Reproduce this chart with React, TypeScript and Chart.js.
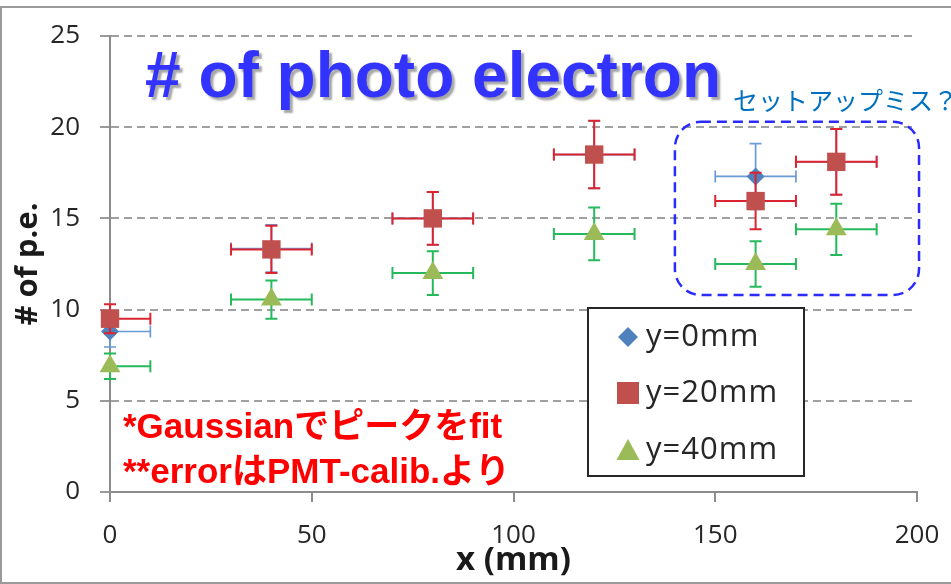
import React, { useEffect, useRef } from 'react';
import { Chart, registerables } from 'chart.js';

Chart.register(...registerables);

// ---- data ----
const xPositions = [0, 40, 80, 120, 160, 180];
const xErrors = [10, 10, 10, 10, 10, 10];
const seriesLabels = ['y=0mm', 'y=20mm', 'y=40mm'];
const y0Values = [8.8, 13.35, 15.0, 18.5, 17.3, 18.1];
const y0Errors = [0.85, 1.3, 1.45, 1.85, 1.8, 1.8];
const y20Values = [9.5, 13.3, 15.0, 18.5, 15.95, 18.1];
const y20Errors = [0.8, 1.3, 1.45, 1.85, 1.55, 1.8];
const y40Values = [6.9, 10.55, 12.0, 14.15, 12.5, 14.4];
const y40Errors = [0.7, 1.05, 1.2, 1.45, 1.25, 1.4];
const xTickValues = [0, 50, 100, 150, 200];
const yTickValues = [0, 5, 10, 15, 20, 25];
const titleText = '# of photo electron';
const noteText = 'セットアップミス？';
const remarkLines = ['*Gaussianでピークをfit', '**errorはPMT-calib.より'];
const xAxisTitle = 'x (mm)';
const yAxisTitle = '# of p.e.';
// highlighted region (data coordinates)
const boxXRange = [140, 200.5];
const boxYRange = [10.8, 20.3];

const markerColors = ['#4F81BD', '#C0504D', '#9BBB59'];
const errorColors = ['#6A9AD6', '#DC2430', '#25B95C'];
const pointStyles = ['rectRot', 'rect', 'triangle'];
const pointRadii = [9, 13, 12];

const makePoints = (ys: number[], errs: number[]) =>
  xPositions.map((x, i) => ({ x, y: ys[i], xErr: xErrors[i], yErr: errs[i] }));

const errorBarPlugin = {
  id: 'errorBars',
  beforeDatasetDraw(chart: any, args: any) {
    const ds = chart.data.datasets[args.index];
    const xs = chart.scales.x;
    const ys = chart.scales.y;
    const ctx = chart.ctx;
    const cap = 6;
    ctx.save();
    ctx.strokeStyle = ds.errorColor;
    ctx.lineWidth = ds.errorWidth || 2;
    ctx.setLineDash([]);
    ds.data.forEach((d: any) => {
      const px = xs.getPixelForValue(d.x);
      const py = ys.getPixelForValue(d.y);
      const lo = d.x - d.xErr;
      const hi = d.x + d.xErr;
      const xl = xs.getPixelForValue(Math.max(lo, xs.min));
      const xr = xs.getPixelForValue(Math.min(hi, xs.max));
      ctx.beginPath();
      ctx.moveTo(xl, py);
      ctx.lineTo(xr, py);
      if (lo >= xs.min) {
        ctx.moveTo(xl, py - cap);
        ctx.lineTo(xl, py + cap);
      }
      if (hi <= xs.max) {
        ctx.moveTo(xr, py - cap);
        ctx.lineTo(xr, py + cap);
      }
      const yt = ys.getPixelForValue(d.y + d.yErr);
      const yb = ys.getPixelForValue(d.y - d.yErr);
      ctx.moveTo(px, yt);
      ctx.lineTo(px, yb);
      ctx.moveTo(px - cap, yt);
      ctx.lineTo(px + cap, yt);
      ctx.moveTo(px - cap, yb);
      ctx.lineTo(px + cap, yb);
      ctx.stroke();
    });
    ctx.restore();
  },
};

function drawMarker(ctx: CanvasRenderingContext2D, style: string, cx: number, cy: number, size: number, color: string) {
  ctx.fillStyle = color;
  ctx.beginPath();
  if (style === 'rectRot') {
    ctx.moveTo(cx, cy - size);
    ctx.lineTo(cx + size, cy);
    ctx.lineTo(cx, cy + size);
    ctx.lineTo(cx - size, cy);
  } else if (style === 'rect') {
    ctx.rect(cx - size, cy - size, size * 2, size * 2);
  } else {
    ctx.moveTo(cx, cy - size);
    ctx.lineTo(cx + size * 1.05, cy + size * 0.9);
    ctx.lineTo(cx - size * 1.05, cy + size * 0.9);
  }
  ctx.closePath();
  ctx.fill();
}

const decorPlugin = {
  id: 'decor',
  beforeDraw(chart: any) {
    const ctx = chart.ctx;
    ctx.save();
    ctx.fillStyle = '#ffffff';
    ctx.fillRect(0, 0, chart.width, chart.height);
    ctx.strokeStyle = '#9a9a9a';
    ctx.lineWidth = 2;
    ctx.strokeRect(1, 7, chart.width + 10, 576);
    ctx.restore();
  },
  afterDraw(chart: any) {
    const ctx = chart.ctx;
    const area = chart.chartArea;
    const xs = chart.scales.x;
    const ys = chart.scales.y;
    ctx.save();

    // big title with shadow
    ctx.font = 'bold 64px "Liberation Sans", Arial, sans-serif';
    ctx.textAlign = 'left';
    ctx.textBaseline = 'alphabetic';
    ctx.shadowColor = 'rgba(60,60,60,0.45)';
    ctx.shadowOffsetX = 3;
    ctx.shadowOffsetY = 3;
    ctx.shadowBlur = 2;
    ctx.fillStyle = '#3333FF';
    ctx.fillText(titleText, area.left + 35, area.top + 61);
    ctx.shadowColor = 'transparent';
    ctx.shadowOffsetX = 0;
    ctx.shadowOffsetY = 0;
    ctx.shadowBlur = 0;

    // note
    ctx.font = '25px "Noto Sans CJK JP", sans-serif';
    ctx.fillStyle = '#0070C0';
    ctx.textBaseline = 'middle';
    ctx.fillText(noteText, area.left + 623, area.top + 64);

    // dashed rounded box
    const bx1 = xs.getPixelForValue(boxXRange[0]);
    const bx2 = xs.getPixelForValue(boxXRange[1]);
    const by1 = ys.getPixelForValue(boxYRange[1]);
    const by2 = ys.getPixelForValue(boxYRange[0]);
    ctx.strokeStyle = '#2B2BFF';
    ctx.lineWidth = 2.5;
    ctx.setLineDash([10, 6]);
    ctx.beginPath();
    if ((ctx as any).roundRect) {
      (ctx as any).roundRect(bx1, by1, bx2 - bx1, by2 - by1, 26);
    } else {
      ctx.rect(bx1, by1, bx2 - bx1, by2 - by1);
    }
    ctx.stroke();
    ctx.setLineDash([]);

    // red remarks
    ctx.font = 'bold 35px "Liberation Sans", "Noto Sans CJK JP", sans-serif';
    ctx.fillStyle = '#FF0000';
    ctx.textBaseline = 'alphabetic';
    remarkLines.forEach((line, i) => {
      ctx.fillText(line, area.left + 13, area.top + 402 + i * 45);
    });

    // legend
    const lx = area.left + 478;
    const ly = area.top + 272;
    const lw = 216;
    const lh = 168;
    ctx.fillStyle = '#ffffff';
    ctx.fillRect(lx, ly, lw, lh);
    ctx.strokeStyle = '#262626';
    ctx.lineWidth = 2;
    ctx.strokeRect(lx, ly, lw, lh);
    const rowY = [29, 85, 142];
    const sizes = [10, 11, 11];
    ctx.font = '31px "Open Sans", sans-serif';
    try {
      (ctx as any).letterSpacing = '1px';
    } catch (e) {
      /* ignore */
    }
    ctx.textBaseline = 'middle';
    seriesLabels.forEach((label, i) => {
      drawMarker(ctx, pointStyles[i], lx + 40, ly + rowY[i], sizes[i], markerColors[i]);
      ctx.fillStyle = '#262626';
      ctx.fillText(label, lx + 58, ly + rowY[i]);
    });

    ctx.restore();
  },
};

export default function App() {
  const canvasRef = useRef<HTMLCanvasElement | null>(null);

  useEffect(() => {
    if (!canvasRef.current) return;
    const seriesValues = [y0Values, y20Values, y40Values];
    const seriesErrors = [y0Errors, y20Errors, y40Errors];
    const datasets = seriesLabels.map((label, i) => ({
      label,
      data: makePoints(seriesValues[i], seriesErrors[i]),
      pointStyle: pointStyles[i],
      pointRadius: pointRadii[i],
      pointHoverRadius: pointRadii[i],
      pointBackgroundColor: markerColors[i],
      pointBorderColor: markerColors[i],
      pointBorderWidth: 0,
      backgroundColor: markerColors[i],
      borderColor: markerColors[i],
      showLine: false,
      clip: false,
      order: 3 - i,
      errorColor: errorColors[i],
      errorWidth: i === 0 ? 1.7 : 2,
    }));

    const chart = new Chart(canvasRef.current, {
      type: 'scatter',
      data: { datasets: datasets as any },
      options: {
        responsive: false,
        animation: false,
        devicePixelRatio: 1,
        events: [],
        layout: { padding: { left: 0, right: 34, top: 36, bottom: 0 } },
        plugins: {
          legend: { display: false },
          tooltip: { enabled: false },
          title: { display: false },
        },
        scales: {
          x: {
            type: 'linear',
            min: 0,
            max: 200,
            afterBuildTicks: (s: any) => {
              s.ticks = xTickValues.map((v) => ({ value: v }));
            },
            afterFit: (s: any) => {
              s.height = 92;
              s.paddingLeft = 0;
              s.paddingRight = 0;
            },
            ticks: {
              color: '#262626',
              font: { family: '"Open Sans", sans-serif', size: 26 },
              padding: 18,
              maxRotation: 0,
            },
            grid: {
              drawOnChartArea: false,
              drawTicks: true,
              tickLength: 10,
              tickColor: '#8c8c8c',
              tickWidth: 2,
              color: '#8c8c8c',
              lineWidth: 2,
            },
            border: { display: true, color: '#8c8c8c', width: 2 },
            title: {
              display: true,
              text: xAxisTitle,
              color: '#1a1a1a',
              font: { family: '"Open Sans", sans-serif', size: 33, weight: 'bold' },
              padding: { top: 0, bottom: 4 },
            },
          },
          y: {
            type: 'linear',
            min: 0,
            max: 25,
            afterBuildTicks: (s: any) => {
              s.ticks = yTickValues.map((v) => ({ value: v }));
            },
            afterFit: (s: any) => {
              s.width = 110;
            },
            ticks: {
              color: '#262626',
              font: { family: '"Open Sans", sans-serif', size: 26 },
              padding: 20,
            },
            grid: {
              drawOnChartArea: true,
              drawTicks: true,
              tickLength: 10,
              tickColor: '#9a9a9a',
              tickWidth: 2,
              color: '#a0a0a0',
              lineWidth: 2,
            },
            border: { display: true, color: '#8c8c8c', width: 2, dash: [8, 5] },
            title: {
              display: true,
              text: yAxisTitle,
              color: '#1a1a1a',
              font: { family: '"Open Sans", sans-serif', size: 31, weight: 'bold' },
              padding: { top: 10, bottom: 0 },
            },
          },
        },
      },
      plugins: [errorBarPlugin, decorPlugin],
    } as any);

    return () => {
      chart.destroy();
    };
  }, []);

  return (
    <div style={{ position: 'fixed', left: 0, top: 0, width: 951, height: 584, background: '#fff' }}>
      <canvas ref={canvasRef} width={951} height={584} style={{ width: 951, height: 584, display: 'block' }} />
    </div>
  );
}
